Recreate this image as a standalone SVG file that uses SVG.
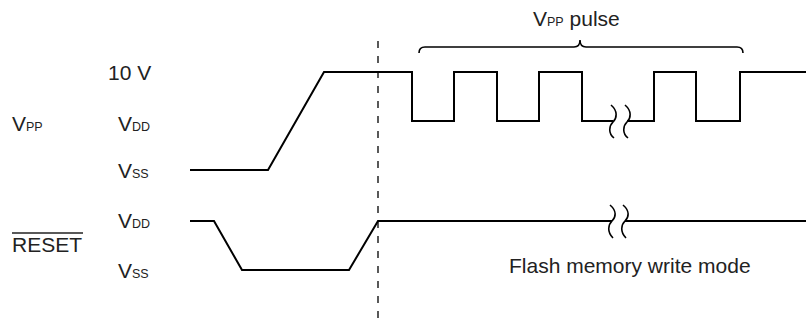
<svg xmlns="http://www.w3.org/2000/svg" width="806" height="330" viewBox="0 0 806 330">
<style>
.t{font-family:"Liberation Sans",Arial,sans-serif;font-size:21px;fill:#222}
.s{font-size:12.5px}
.sig{fill:none;stroke:#000;stroke-width:2;stroke-linejoin:miter}
.brk{fill:none;stroke:#000;stroke-width:1.6}
.dash{stroke:#000;stroke-width:1.3;stroke-dasharray:7 8}
</style>
<rect width="806" height="330" fill="#fff"/>
<g id="labels">
<text class="t" x="12" y="131">V<tspan class="s">PP</tspan></text>
<text class="t" x="108" y="80">10 V</text>
<text class="t" x="118" y="131">V<tspan class="s">DD</tspan></text>
<text class="t" x="118" y="178">V<tspan class="s">SS</tspan></text>
<text class="t" x="12" y="252">RESET</text>
<line x1="12" y1="233" x2="83" y2="233" stroke="#222" stroke-width="1.3"/>
<text class="t" x="118" y="228">V<tspan class="s">DD</tspan></text>
<text class="t" x="118" y="278">V<tspan class="s">SS</tspan></text>
<text class="t" x="533" y="26">V<tspan class="s">PP</tspan> pulse</text>
<text class="t" x="509" y="273">Flash memory write mode</text>
</g>
<g id="connectors">
<line class="dash" x1="378" y1="41" x2="378" y2="318"/>
<path class="sig" d="M190,170 L268,170 L324,72 L412,72 L412,121 L454,121 L454,72 L497,72 L497,121 L539,121 L539,72 L582,72 L582,121 L613,121 M627,121 L654,121 L654,72 L696,72 L696,121 L740,121 L740,72 L806,72"/>
<path class="sig" d="M190,221 L214,221 L242,270 L349,270 L378,221 L612,221 M625,221 L806,221"/>
<path class="brk" d="M611,105 C618,111 617,118 613,122 C609,126 608,133 614,138 M625,105 C632,111 631,118 627,122 C623,126 622,133 628,138"/>
<path class="brk" d="M610,205 C617,211 616,217 612,221 C608,225 607,232 613,238 M623,205 C630,211 629,217 625,221 C621,225 620,232 626,238"/>
<path class="brk" d="M419,53 Q419,47 425,47 L574,47 Q580,47 580,40 Q580,47 586,47 L737,47 Q743,47 743,53"/>
</g>
</svg>
